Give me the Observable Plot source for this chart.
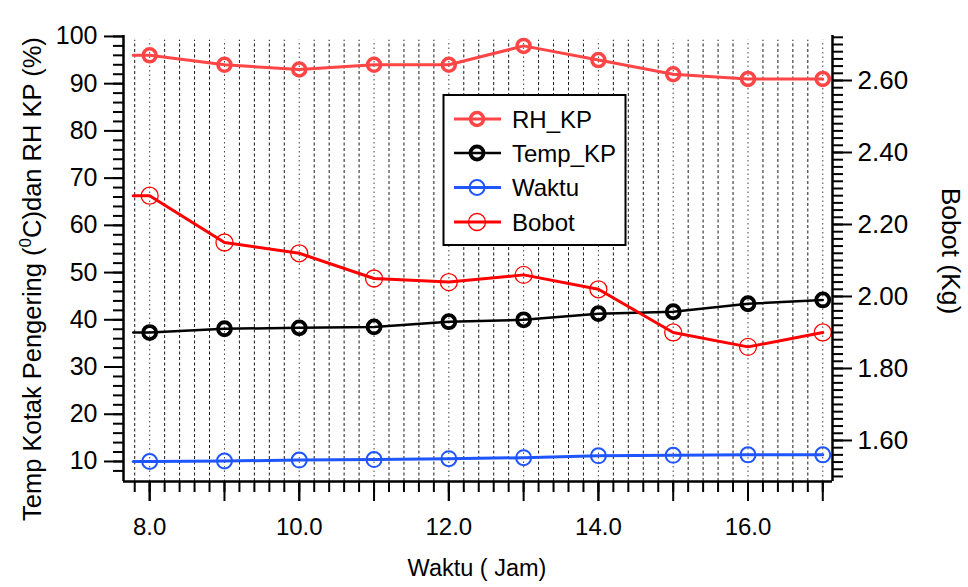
<!DOCTYPE html>
<html><head><meta charset="utf-8">
<script src="https://cdn.jsdelivr.net/npm/d3@7"></script>
<script src="https://cdn.jsdelivr.net/npm/@observablehq/plot@0.6"></script>
<style>
body{margin:0;background:#fff;}
#chart svg{display:block;}
</style></head><body><div id="chart"></div>
<script>
// ---- data ----
const hours = [8, 9, 10, 11, 12, 13, 14, 15, 16, 17];
const startHour = 7.78;
const rhKP   = [96, 94, 93, 94, 94, 98, 95, 92, 91, 91];
const tempKP = [37.3, 38.1, 38.3, 38.5, 39.6, 40.0, 41.3, 41.7, 43.4, 44.2];
const waktu  = [10.0, 10.1, 10.3, 10.4, 10.6, 10.8, 11.2, 11.3, 11.4, 11.4];
const bobot  = [2.28, 2.15, 2.12, 2.05, 2.04, 2.06, 2.02, 1.90, 1.86, 1.90];
const seriesNames = ["RH_KP", "Temp_KP", "Waktu", "Bobot"];
const xTickLabels = [8, 10, 12, 14, 16];
const leftTickLabels = [10, 20, 30, 40, 50, 60, 70, 80, 90, 100];
const rightTickLabels = [1.6, 1.8, 2.0, 2.2, 2.4, 2.6];
const xLabel = "Waktu ( Jam)";
const rightLabel = "Bobot (Kg)";

// ---- scales / layout ----
const xDomain = [7.65, 17.13];
const leftDomain = [5.76, 100.2];
const rightDomain = [1.486, 2.725];
const toLeft = d3.scaleLinear().domain(rightDomain).range(leftDomain);

const xMinor = d3.range(39, 86).map(i => i / 5);
const xMajor = d3.range(8, 18);
const gridMinor = xMinor.filter(v => Math.abs(v - Math.round(v)) > 1e-6);
const gridMajor = xMajor;
const leftMinor = d3.range(8, 101, 2);
const rightMinor = d3.range(75, 137).map(i => i / 50);

const style = {
  RH_KP:   {color: "#ff4545", lw: 3,   r: 6.5, mw: 3.5},
  Temp_KP: {color: "#000000", lw: 2.5, r: 6.5, mw: 3.8},
  Waktu:   {color: "#1f55ff", lw: 3,   r: 7.5, mw: 2},
  Bobot:   {color: "#ff0000", lw: 3,   r: 8.5, mw: 1.3}
};
const seriesValues = {
  RH_KP: rhKP,
  Temp_KP: tempKP,
  Waktu: waktu,
  Bobot: bobot.map(v => toLeft(v))
};

const lineMarks = [];
const dotMarks = [];
for (const name of seriesNames) {
  const vals = seriesValues[name];
  const pts = hours.map((h, i) => ({hour: h, value: vals[i]}));
  const linePts = [{hour: startHour, value: vals[0]}, ...pts];
  const s = style[name];
  lineMarks.push(Plot.line(linePts, {x: "hour", y: "value", stroke: s.color, strokeWidth: s.lw}));
  dotMarks.push(Plot.dot(pts, {x: "hour", y: "value", r: s.r, stroke: s.color, strokeWidth: s.mw, fill: "none"}));
}

const chart = Plot.plot({
  width: 968,
  height: 587,
  marginLeft: 123,
  marginRight: 136,
  marginTop: 35,
  marginBottom: 106,
  style: {fontFamily: "'Liberation Sans', Arial, sans-serif", fontSize: "24px", background: "#fff", color: "#000"},
  x: {domain: xDomain, label: null},
  y: {domain: leftDomain, label: null},
  marks: [
    Plot.ruleX(gridMinor, {stroke: "#1a1a1a", strokeWidth: 1, strokeDasharray: "3,2.5", y1: leftDomain[0], y2: leftDomain[1] - 1}),
    Plot.ruleX(gridMajor, {stroke: "#444", strokeWidth: 1, strokeDasharray: "1.5,3", y1: leftDomain[0], y2: leftDomain[1] - 1}),
    ...lineMarks,
    ...dotMarks,
    // axis lines
    Plot.ruleY([leftDomain[0]], {stroke: "#000", strokeWidth: 2.5}),
    Plot.ruleX([xDomain[0], xDomain[1]], {stroke: "#000", strokeWidth: 2.5}),
    // x axis
    Plot.axisX(xMinor, {anchor: "bottom", tickSize: 11, strokeWidth: 2, fill: "none", label: null}),
    Plot.axisX(xMajor, {anchor: "bottom", tickSize: 20, strokeWidth: 2, fill: "none", label: null}),
    Plot.axisX(xTickLabels, {anchor: "bottom", tickSize: 20, strokeWidth: 2, tickPadding: 16, fontSize: 24, tickFormat: d => d.toFixed(1), label: null}),
    // left axis
    Plot.axisY(leftMinor, {anchor: "left", tickSize: 10, strokeWidth: 2, fill: "none", label: null}),
    Plot.axisY(leftTickLabels, {anchor: "left", tickSize: 19, strokeWidth: 2, tickPadding: 7, fontSize: 25, tickFormat: d => String(d), label: null}),
    // right axis
    Plot.axisY(rightMinor.map(v => toLeft(v)), {anchor: "right", tickSize: 10, strokeWidth: 2, fill: "none", label: null}),
    Plot.axisY(rightTickLabels.map(v => toLeft(v)), {anchor: "right", tickSize: 19, strokeWidth: 2, tickPadding: 6, fontSize: 26, tickFormat: d => toLeft.invert(d).toFixed(2), label: null})
  ]
});
document.getElementById("chart").appendChild(chart);

// ---- titles & legend ----
const svg = d3.select(chart);
const font = "'Liberation Sans', Arial, sans-serif";
svg.append("text")
  .attr("x", 477).attr("y", 576)
  .attr("text-anchor", "middle")
  .attr("font-family", font).attr("font-size", 23.5)
  .text(xLabel);

const lt = svg.append("text")
  .attr("transform", "translate(41,521) rotate(-90)")
  .attr("text-anchor", "start")
  .attr("font-family", font).attr("font-size", 25.5);
lt.append("tspan").text("Temp Kotak Pengering (");
lt.append("tspan").attr("font-size", 17).attr("dy", -10).text("0");
lt.append("tspan").attr("dy", 10).text("C)dan RH KP (%)");

svg.append("text")
  .attr("transform", "translate(942,251) rotate(90)")
  .attr("text-anchor", "middle")
  .attr("font-family", font).attr("font-size", 26.5)
  .text(rightLabel);

const lg = svg.append("g");
lg.append("rect").attr("x", 443.5).attr("y", 95).attr("width", 182).attr("height", 150)
  .attr("fill", "#fff").attr("stroke", "#000").attr("stroke-width", 2);
const rowY = [119, 153, 187.5, 222];
seriesNames.forEach((name, i) => {
  const s = style[name];
  const y = rowY[i];
  lg.append("line").attr("x1", 454).attr("x2", 501).attr("y1", y).attr("y2", y)
    .attr("stroke", s.color).attr("stroke-width", s.lw);
  lg.append("circle").attr("cx", 477).attr("cy", y).attr("r", s.r)
    .attr("fill", "none").attr("stroke", s.color).attr("stroke-width", s.mw);
  lg.append("text").attr("x", 512).attr("y", y + 8.5)
    .attr("text-anchor", "start")
    .attr("font-family", font).attr("font-size", 24).text(name);
});
</script></body></html>
